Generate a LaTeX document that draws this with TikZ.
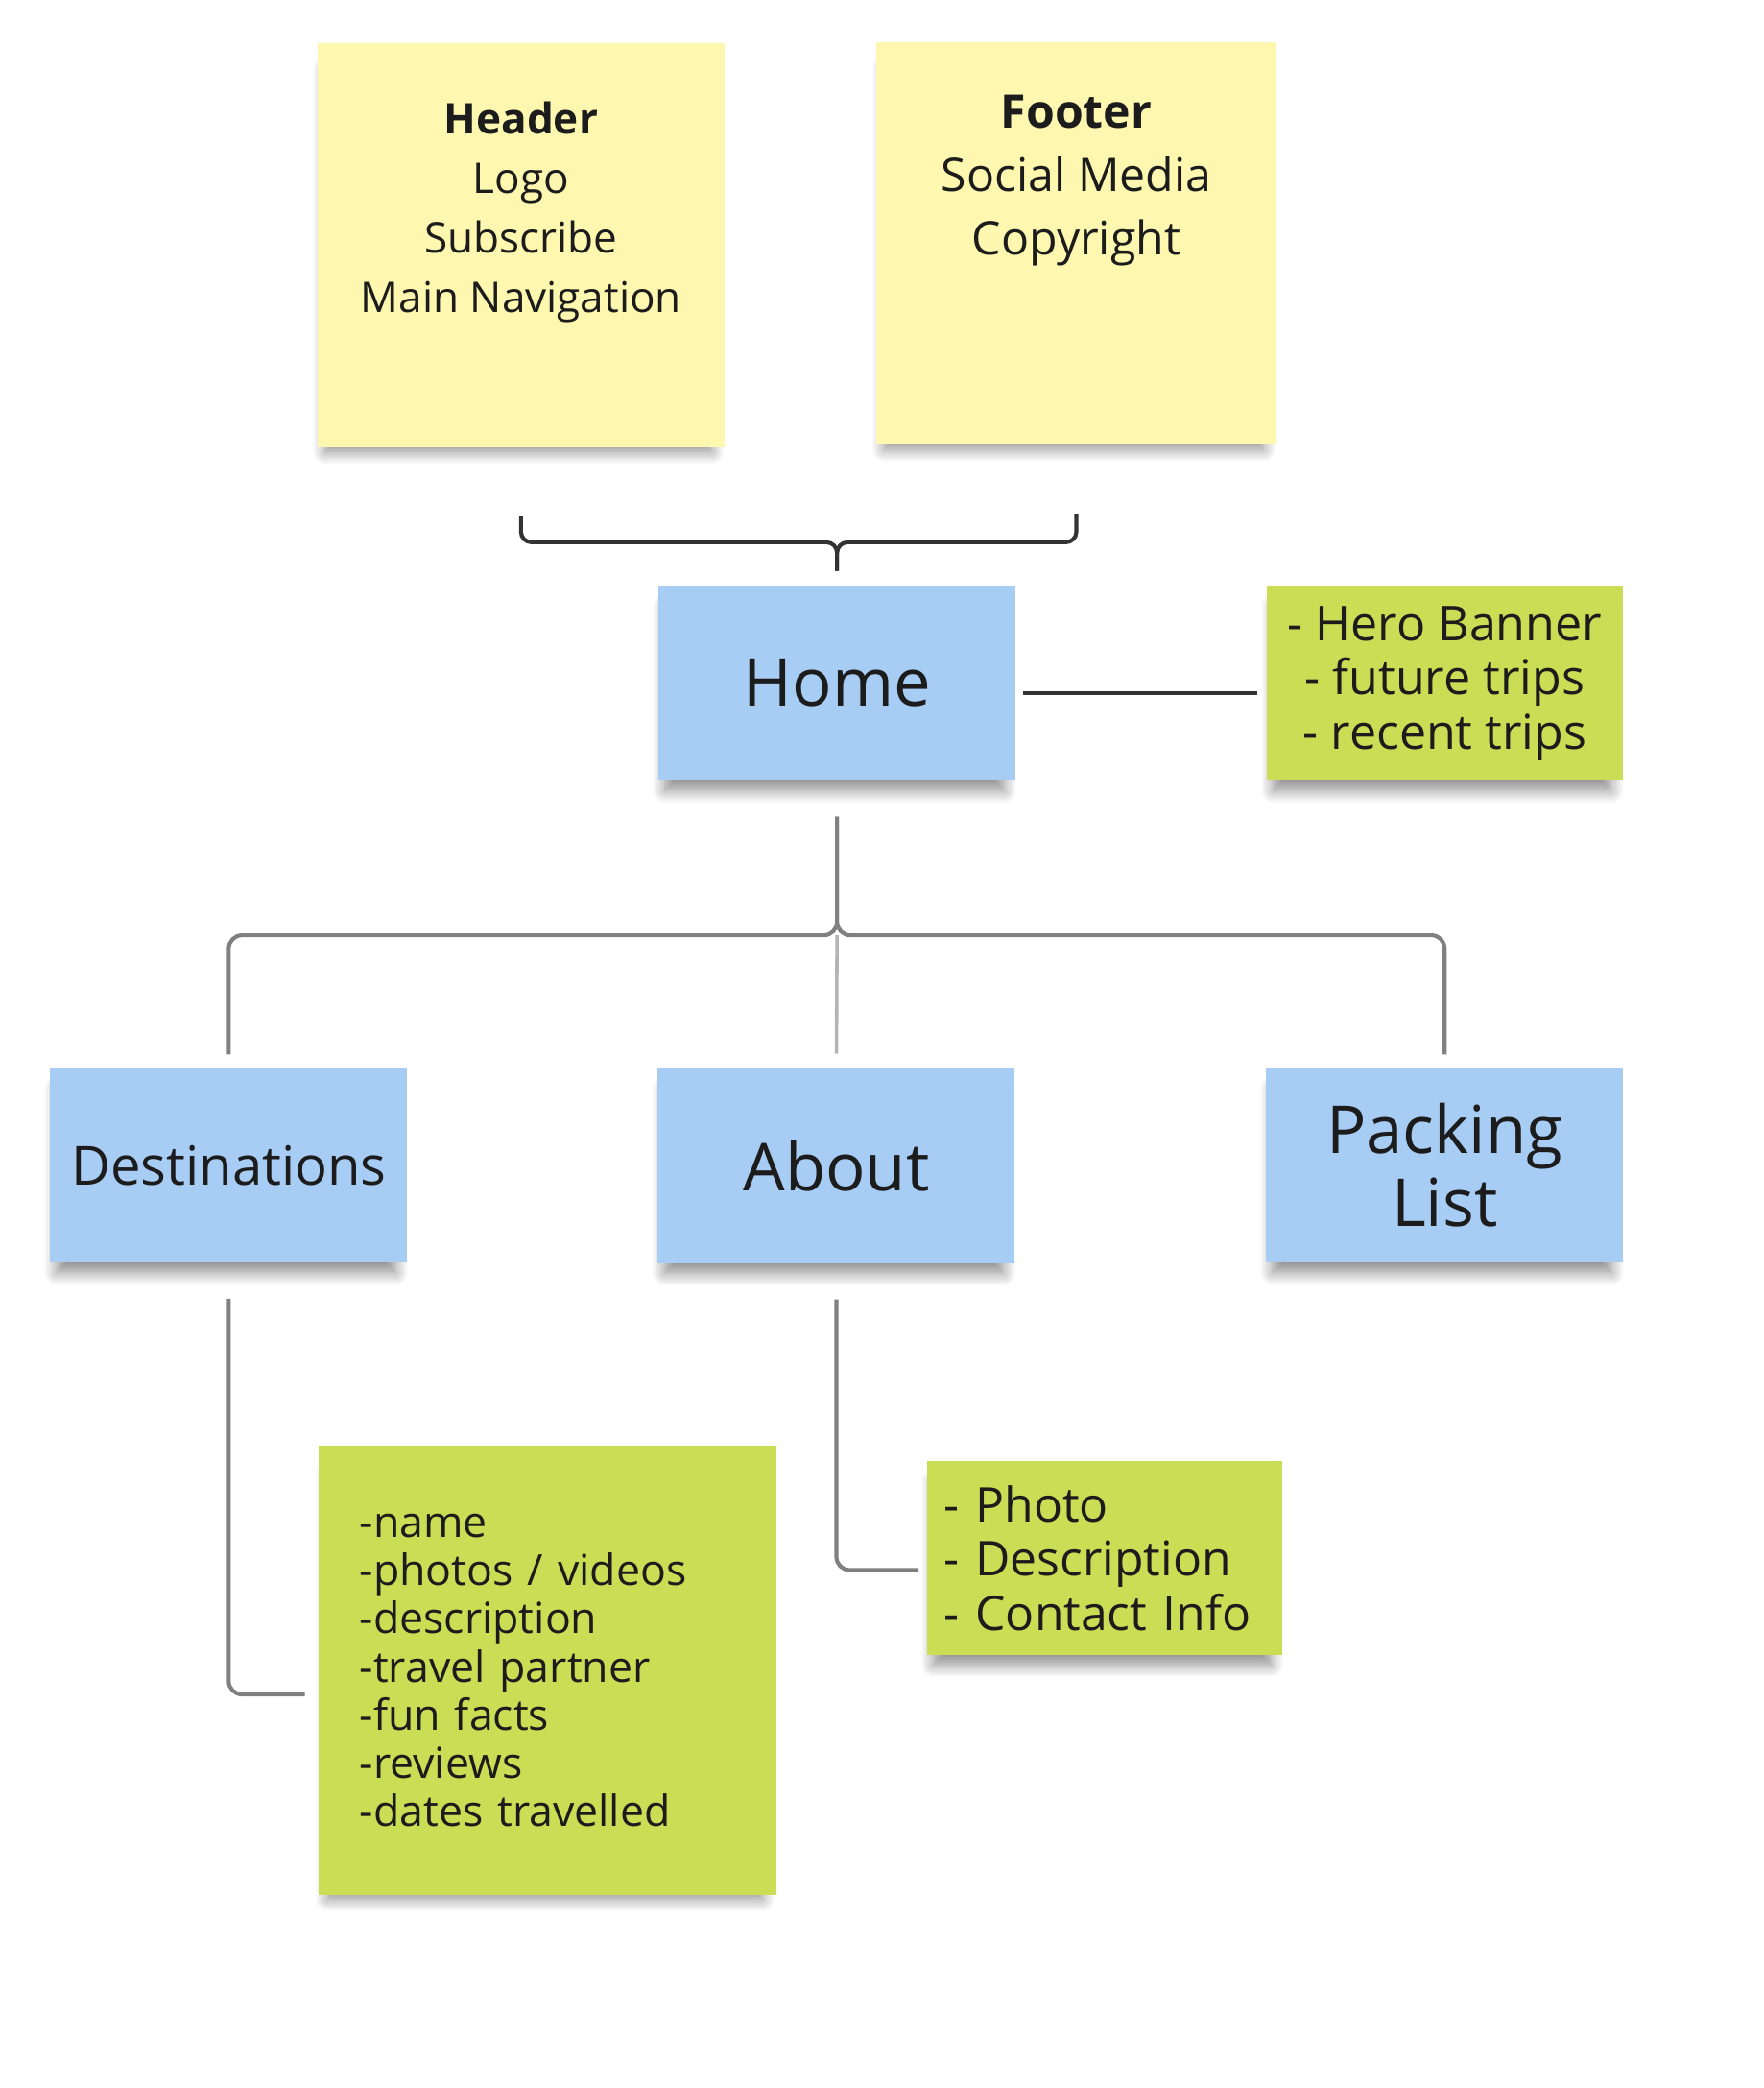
\documentclass[tikz,border=0pt]{standalone}
\usepackage{fontspec}
\setmainfont{Open Sans}
\usepackage{tikz}
\usetikzlibrary{positioning,shadows.blur}

\definecolor{stickyyellow}{HTML}{FEF7B0}
\definecolor{stickyblue}{HTML}{A8CDF4}
\definecolor{stickygreen}{HTML}{C9DE55}
\definecolor{inktext}{HTML}{1C1C1C}
\definecolor{darkline}{HTML}{333333}
\definecolor{greyline}{HTML}{808080}
\definecolor{paleline}{HTML}{B4B4B4}

\tikzset{
  sticky/.style={inner sep=0pt, text=inktext,
    blur shadow={shadow xshift=-1pt, shadow yshift=-6pt, shadow opacity=45,
      shadow blur radius=5pt, shadow blur steps=12, shadow scale=0.95}},
  yellownote/.style={sticky, fill=stickyyellow},
  bluenote/.style={sticky, fill=stickyblue, align=center, minimum width=135pt, minimum height=73.5pt},
  greennote/.style={sticky, fill=stickygreen},
  bracket/.style={draw=darkline, line width=1.5pt, rounded corners=4pt},
  branch/.style={draw=greyline, line width=1.5pt, rounded corners=5pt},
}

\begin{document}
\begin{tikzpicture}[x=0.5pt,y=-0.5pt]
        \useasboundingbox (0,0) rectangle (1334,1578.6);

        \node[yellownote, minimum width=154pt, minimum height=152.5pt] (hdrbox) at (394,185.5) {};
        \node[below=22pt of hdrbox.north, inner sep=0pt, text=inktext, align=center, font=\fontsize{16pt}{22.5pt}\selectfont] (hdr) {\textbf{Header}\\Logo\\Subscribe\\Main Navigation};
        \node[yellownote, minimum width=151pt, minimum height=152pt] (ftrbox) at (814,184) {};
        \node[below=20pt of ftrbox.north, inner sep=0pt, text=inktext, align=center, font=\fontsize{17.5pt}{24pt}\selectfont] (ftr) {\textbf{Footer}\\Social Media\\Copyright};

        \node[bluenote, font=\fontsize{25pt}{27.5pt}\selectfont] (home) at (633,516.5) {Home};
        \node[greennote, minimum width=134.5pt, minimum height=73.5pt, align=center, font=\fontsize{18.2pt}{20.5pt}\selectfont] (hero) at (1092.5,516.5) {- Hero Banner\\- future trips\\- recent trips};

        \node[bluenote, font=\fontsize{20.4pt}{24pt}\selectfont] (dest) at (173,881) {Destinations};
        \node[bluenote, font=\fontsize{25pt}{27.5pt}\selectfont] (about) at (632.5,881.5) {About};
        \node[bluenote, font=\fontsize{25pt}{27.5pt}\selectfont] (pack) at (1092.5,881) {Packing\\List};

        \node[greennote, minimum width=173pt, minimum height=170pt, inner xsep=15.5pt, text width=142pt, align=left, font=\fontsize{16.2pt}{18.2pt}\selectfont] (dnote) at (414,1263) {-name\\-photos / videos\\-description\\-travel partner\\-fun facts\\-reviews\\-dates travelled};
        \node[greennote, minimum width=134.5pt, minimum height=73pt, inner xsep=6.5pt, text width=121.5pt, align=left, font=\fontsize{18.1pt}{20.5pt}\selectfont] (anote) at (835.5,1178) {- Photo\\- Description\\- Contact Info};

        %hdr,ftr>home
        \coordinate (brace) at (633,410);
        \draw[bracket, shorten <=26pt, shorten >=5.5pt] (hdrbox.south) |- (brace) -- (home.north);
        \draw[bracket, shorten <=26pt, shorten >=5.5pt] (ftrbox.south) |- (brace) -- (home.north);
        %home>hero
        \draw[draw=darkline, line width=1.5pt, shorten <=2.5pt, shorten >=3.5pt] ([yshift=-3.75pt]home.east) -- ([yshift=-3.75pt]hero.west);

        %home>dest,about,pack
        \coordinate (split) at (633,707);
        \draw[branch, shorten <=13.5pt, shorten >=5pt] (home.south) -- (split) -| (dest.north);
        \draw[branch, shorten <=13.5pt, shorten >=5pt] (home.south) -- (split) -| (pack.north);
        \draw[draw=paleline, line width=1.3pt, shorten >=5.5pt] (split) -- (about.north);

        %dest>dnote
        \draw[branch, shorten <=13.5pt, shorten >=5pt] (dest.south) |- ([yshift=-9pt]dnote.west);
        %about>anote
        \draw[branch, shorten <=13.5pt, shorten >=3pt] (about.south) |- ([yshift=-4.5pt]anote.west);
\end{tikzpicture}
\end{document}
